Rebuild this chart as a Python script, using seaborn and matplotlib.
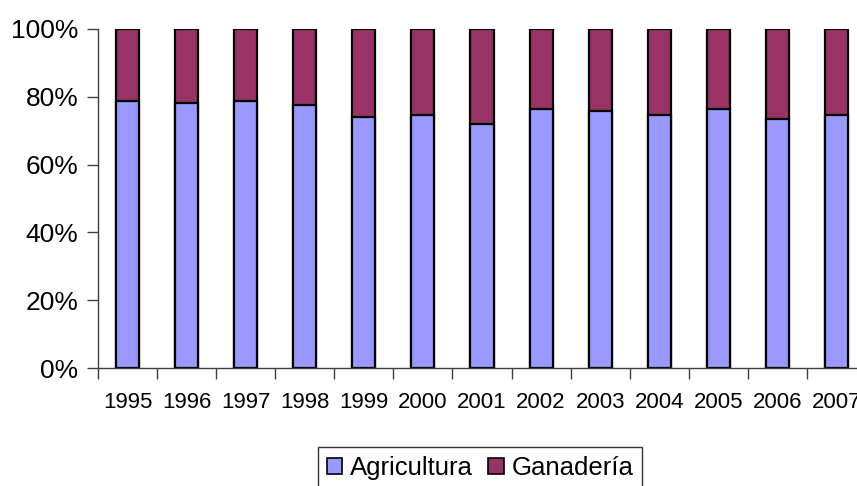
import matplotlib
matplotlib.use("Agg")
import matplotlib.pyplot as plt
import seaborn as sns
import pandas as pd
from matplotlib.ticker import FuncFormatter, FixedLocator
from matplotlib.patches import Patch

years = ["1995", "1996", "1997", "1998", "1999", "2000", "2001",
         "2002", "2003", "2004", "2005", "2006", "2007"]
agricultura = [78.9, 78.1, 78.8, 77.7, 74.0, 74.6, 72.1, 76.5, 75.8, 74.6, 76.4, 73.4, 74.6]
ganaderia = [100 - a for a in agricultura]

sns.set_theme(style="white")
plt.rcParams['font.family'] = ['Liberation Sans', 'DejaVu Sans']
plt.rcParams['text.color'] = 'black'
plt.rcParams['xtick.color'] = 'black'
plt.rcParams['ytick.color'] = 'black'

df = pd.DataFrame({"year": years, "agri": agricultura, "gan": ganaderia})
df["total"] = df["agri"] + df["gan"]

fig = plt.figure(figsize=(8.57, 4.86), dpi=100)
ax = fig.add_axes([98/857, (486-368)/486, 768/857, (368-29)/486])

sns.barplot(data=df, x="year", y="total", color="#993366", saturation=1,
            width=0.39, edgecolor="black", linewidth=1.6, ax=ax)
sns.barplot(data=df, x="year", y="agri", color="#9999FF", saturation=1,
            width=0.39, edgecolor="black", linewidth=1.6, ax=ax)

ax.set_xlim(-0.5, len(years) - 0.5)
ax.set_ylim(0, 100)
ax.set_yticks([0, 20, 40, 60, 80, 100])
ax.yaxis.set_major_formatter(FuncFormatter(lambda v, p: f"{int(v)}%"))
ax.set_xlabel("")
ax.set_ylabel("")

ax.tick_params(axis="y", which="major", direction="out", length=8, width=1,
               color="#404040", labelsize=19, pad=6, left=True, labelcolor="black")
ax.tick_params(axis="x", which="major", length=0, labelsize=16, pad=17.5, bottom=True,
               labelcolor="black")
ax.xaxis.set_minor_locator(FixedLocator([i + 0.5 for i in range(-1, len(years))]))
ax.tick_params(axis="x", which="minor", direction="out", length=8, width=1,
               color="#404040", bottom=True)

for s in ["top", "right"]:
    ax.spines[s].set_visible(False)
for s in ["left", "bottom"]:
    ax.spines[s].set_color("#404040")
    ax.spines[s].set_linewidth(1)

handles = [Patch(facecolor="#9999FF", edgecolor="black", linewidth=1.2, label="Agricultura"),
           Patch(facecolor="#993366", edgecolor="black", linewidth=1.2, label="Ganadería")]
leg = fig.legend(handles=handles, loc="upper center", bbox_to_anchor=(480/857, 1 - 447/486),
                 ncol=2, fontsize=18.5, frameon=True, fancybox=False,
                 handlelength=0.6, handleheight=0.6, handletextpad=0.3,
                 columnspacing=0.6, borderpad=0.35, borderaxespad=0)
leg.get_frame().set_edgecolor("black")
leg.get_frame().set_linewidth(1)
for t in leg.get_texts():
    t.set_color("black")

fig.savefig("out.png", dpi=100)
